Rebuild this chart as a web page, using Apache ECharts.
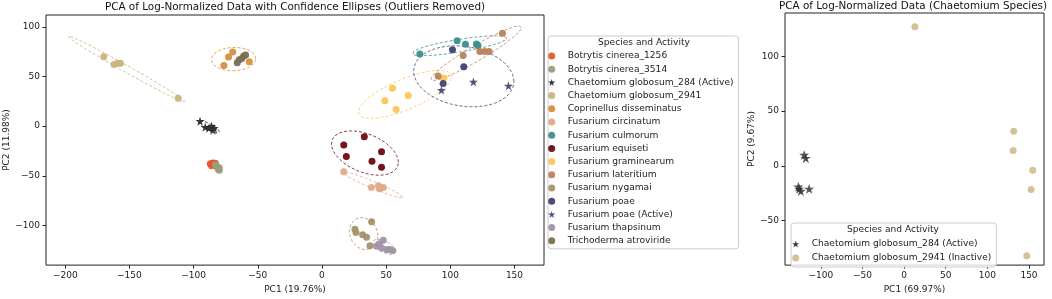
<!DOCTYPE html>
<html>
<head>
<meta charset="utf-8">
<script src="https://cdn.jsdelivr.net/npm/echarts@6/dist/echarts.min.js"></script>
<style>
  html, body { margin: 0; padding: 0; background: #fff; }
  #chart { width: 1052px; height: 299px; }
</style>
</head>
<body>
<div id="chart"></div>
<script>
// ---- left panel: PCA scores per group (outliers removed) ----
const botrytis1256 = [[-87, -38], [-85, -37], [-84, -38.5], [-86, -40], [-83, -37.5]];
const botrytis3514 = [[-83, -39], [-82, -40.5], [-80, -42], [-80, -44.5], [-81, -43]];
const chaeto284 = [[-95, 5], [-91, -1], [-88, -2], [-86, 0], [-85, -4], [-84, -2]];
const chaeto2941 = [[-170, 70], [-162, 62], [-159, 63.5], [-157, 63.5], [-112, 28]];
const coprinellus = [[-76.4, 61], [-72.8, 69.6], [-69.5, 74.6], [-56.6, 65]];
const circinatum = [[17, -46], [38.5, -61.7], [44, -60], [45.9, -62.4], [47.8, -61.7], [45, -63]];
const culmorum = [[76.3, 72.7], [105.3, 86], [111.8, 82.5], [120.4, 82.9], [121.6, 81.2]];
const equiseti = [[17, -19], [19, -30.7], [33, -10.6], [39, -35.3], [46.4, -25.7], [46.4, -41.3]];
const graminearum = [[55, 38.3], [49, 25.7], [67.2, 31], [57.8, 16.8], [95, 48.5]];
const lateritium = [[140.6, 93.5], [110, 71.3], [123, 75.2], [126.8, 75.2], [130.2, 75.2], [90.5, 50.5]];
const nygamai = [[38.7, -96.3], [25.7, -104], [26.5, -107.2], [31.7, -109.5], [34.8, -111.9], [37.4, -120.4]];
const poae = [[101.7, 77], [110.5, 59.8], [94.4, 43]];
const poaeActive = [[93.1, 36.3], [118, 44.6], [145.3, 40.6]];
const thapsinum = [[42.6, -121], [47.8, -115], [46.5, -122.8], [50.4, -124.4], [53, -124.4], [55.1, -125.3], [44.7, -118.4]];
const trichoderma = [[-66, 64], [-64.5, 66.8], [-62.5, 68.2], [-61, 70.8], [-59.5, 71.8]];

// ---- right panel: Chaetomium only ----
const cg284Right = [[-120, 10], [-118, 7], [-127, -19], [-124, -23], [-126, -21], [-114, -21]];
const cg2941Right = [[13, 127], [131.7, 31.6], [131, 14], [154.5, -4], [152.5, -21.7], [147.3, -82]];

// tick labels
const leftXTicks = [-200, -150, -100, -50, 0, 50, 100, 150];
const leftYTicks = [-100, -50, 0, 50, 100];
const rightXTicks = [-100, -50, 0, 50, 100, 150];
const rightYTicks = [-50, 0, 50, 100];

const starPath = 'path://M50,0 L61.8,36.2 L100,36.2 L69.1,58.6 L80.9,95.1 L50,72.6 L19.1,95.1 L30.9,58.6 L0,36.2 L38.2,36.2 Z';
const FONT = 'DejaVu Sans';

// name, data, color, star?, ellipse points (null = none)
const groups = [
  ['Botrytis cinerea_1256', botrytis1256, '#e4592b', false, botrytis1256],
  ['Botrytis cinerea_3514', botrytis3514, '#9c9d7a', false, botrytis3514],
  ['Chaetomium globosum_284 (Active)', chaeto284, '#2b2b2b', true, chaeto284],
  ['Chaetomium globosum_2941', chaeto2941, '#c9b47c', false, chaeto2941],
  ['Coprinellus disseminatus', coprinellus, '#d68e3e', false, coprinellus],
  ['Fusarium circinatum', circinatum, '#e2a98a', false, circinatum],
  ['Fusarium culmorum', culmorum, '#3b8f8b', false, culmorum],
  ['Fusarium equiseti', equiseti, '#6d0b0e', false, equiseti],
  ['Fusarium graminearum', graminearum, '#fdc45a', false, graminearum],
  ['Fusarium lateritium', lateritium, '#b9825a', false, lateritium],
  ['Fusarium nygamai', nygamai, '#a8916b', false, nygamai],
  ['Fusarium poae', poae, '#3f4371', false, poae.concat(poaeActive)],
  ['Fusarium poae (Active)', poaeActive, '#484a78', true, null],
  ['Fusarium thapsinum', thapsinum, '#a094a4', false, thapsinum],
  ['Trichoderma atroviride', trichoderma, '#7b6f53', false, trichoderma]
];

// 2-sigma confidence ellipse from the group's sample covariance
function confidenceEllipse(pts, nStd) {
  const n = pts.length;
  let mx = 0, my = 0;
  pts.forEach(p => { mx += p[0]; my += p[1]; });
  mx /= n; my /= n;
  let sxx = 0, syy = 0, sxy = 0;
  pts.forEach(p => {
    sxx += (p[0] - mx) * (p[0] - mx);
    syy += (p[1] - my) * (p[1] - my);
    sxy += (p[0] - mx) * (p[1] - my);
  });
  sxx /= n - 1; syy /= n - 1; sxy /= n - 1;
  const a = Math.sqrt(sxx);
  const b = sxy / a;
  const c = Math.sqrt(Math.max(syy - b * b, 0));
  const out = [];
  for (let i = 0; i <= 120; i++) {
    const t = (i / 120) * Math.PI * 2;
    out.push([mx + nStd * a * Math.cos(t), my + nStd * (b * Math.cos(t) + c * Math.sin(t))]);
  }
  return out;
}

const minus = v => String(v).replace('-', '\u2212');
const tickText = { fontFamily: FONT, fontSize: 9, color: '#222' };

function makeAxis(gridIndex, min, max, ticks, name, nameGap) {
  return {
    gridIndex: gridIndex, type: 'value', min: min, max: max,
    name: name, nameLocation: 'middle', nameGap: nameGap,
    nameTextStyle: tickText,
    axisLine: { show: false, onZero: false },
    axisTick: { show: true, length: 3.5, customValues: ticks, lineStyle: { color: '#222', width: 1 } },
    axisLabel: Object.assign({ customValues: ticks, margin: 6, formatter: minus }, tickText),
    splitLine: { show: false }
  };
}

const series = [];
groups.forEach(g => {
  series.push({
    type: 'scatter', name: g[0], xAxisIndex: 0, yAxisIndex: 0,
    data: g[1], symbol: g[3] ? starPath : 'circle', symbolSize: g[3] ? 9 : 7,
    itemStyle: { color: g[2], opacity: 0.95 }, z: 3
  });
  if (g[4]) {
    series.push({
      type: 'line', name: 'ellipse ' + g[0], xAxisIndex: 0, yAxisIndex: 0,
      data: confidenceEllipse(g[4], 2), showSymbol: false, symbol: 'none', silent: true,
      lineStyle: { color: g[2], width: 1, type: [3, 2], opacity: 0.8 }, z: 3
    });
  }
});
series.push({
  type: 'scatter', name: 'Chaetomium globosum_284 (Active)', xAxisIndex: 1, yAxisIndex: 1,
  data: cg284Right, symbol: starPath, symbolSize: 10, itemStyle: { color: '#2b2b2b' }
});
series.push({
  type: 'scatter', name: 'Chaetomium globosum_2941 (Inactive)', xAxisIndex: 1, yAxisIndex: 1,
  data: cg2941Right, symbol: 'circle', symbolSize: 7, itemStyle: { color: '#c9b47c' }
});

const legendText = { fontFamily: FONT, fontSize: 9.1, lineHeight: 10, color: '#222' };
const titleFont = '10.4px "DejaVu Sans"';
const legendTitleFont = '9.1px "DejaVu Sans"';

const option = {
  animation: false,
  backgroundColor: '#fff',
  grid: [
    { left: 46, right: 508, top: 15, bottom: 30, show: true, borderColor: '#222', borderWidth: 1 },
    { left: 785, right: 8, top: 13, bottom: 31, show: true, borderColor: '#222', borderWidth: 1 }
  ],
  xAxis: [
    makeAxis(0, -215, 173, leftXTicks, 'PC1 (19.76%)', 18),
    makeAxis(1, -143, 168, rightXTicks, 'PC1 (69.97%)', 18)
  ],
  yAxis: [
    makeAxis(0, -140, 112, leftYTicks, 'PC2 (11.98%)', 34),
    makeAxis(1, -90.6, 139.5, rightYTicks, 'PC2 (9.67%)', 26)
  ],
  legend: [
    {
      orient: 'vertical', left: 548, top: 36, padding: [15, 5, 3, 0],
      itemWidth: 22, itemHeight: 7, itemGap: 3.2, selectedMode: false,
      data: groups.map(g => g[0]), textStyle: legendText,
      borderColor: '#cccccc', borderWidth: 1, borderRadius: 3, backgroundColor: 'rgba(255,255,255,0.8)'
    },
    {
      orient: 'vertical', left: 791, top: 223, padding: [16, 5, 4, 1],
      itemWidth: 22, itemHeight: 7, itemGap: 4, selectedMode: false,
      data: ['Chaetomium globosum_284 (Active)', 'Chaetomium globosum_2941 (Inactive)'], textStyle: legendText,
      borderColor: '#cccccc', borderWidth: 1, borderRadius: 3, backgroundColor: 'rgba(255,255,255,0.8)'
    }
  ],
  graphic: [
    { type: 'text', x: 295, y: 7, z: 10, style: { text: 'PCA of Log-Normalized Data with Confidence Ellipses (Outliers Removed)', font: titleFont, fill: '#111', align: 'center', verticalAlign: 'middle' } },
    { type: 'text', x: 913, y: 6, z: 10, style: { text: 'PCA of Log-Normalized Data (Chaetomium Species)', font: titleFont, fill: '#111', align: 'center', verticalAlign: 'middle' } },
    { type: 'text', x: 644, y: 43, z: 10, style: { text: 'Species and Activity', font: legendTitleFont, fill: '#222', align: 'center', verticalAlign: 'middle' } },
    { type: 'text', x: 893, y: 230, z: 10, style: { text: 'Species and Activity', font: legendTitleFont, fill: '#222', align: 'center', verticalAlign: 'middle' } }
  ],
  series: series
};

const myChart = echarts.init(document.getElementById('chart'), null, { renderer: 'canvas' });
myChart.setOption(option);
</script>
</body>
</html>
